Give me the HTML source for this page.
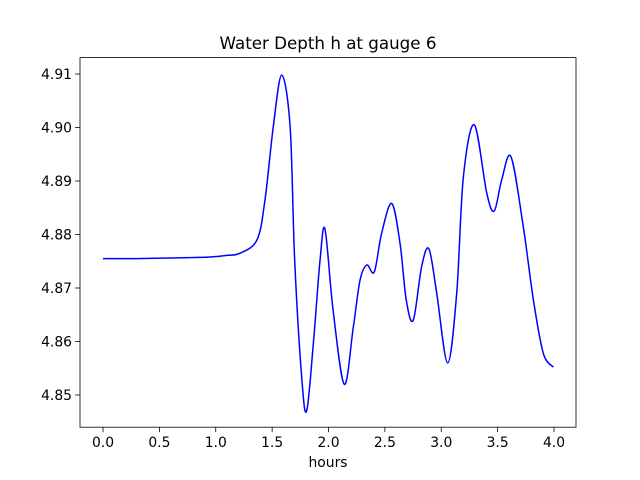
<!DOCTYPE html>
<html><head><meta charset="utf-8"><style>
body{margin:0;background:#fff}
svg{display:block;font-family:"DejaVu Sans","Liberation Sans",sans-serif}
</style></head><body>
<svg id="chart" width="640" height="480">
<rect width="640" height="480" fill="#fff"/>
<text x="328" y="49" text-anchor="middle" font-size="16.7">Water Depth h at gauge 6</text>
<text x="328" y="467" text-anchor="middle" font-size="13.9">hours</text>
<g id="ticks"></g>
<path id="line" fill="none" stroke="#0000ff" stroke-width="1.5"/>
<rect x="80" y="57.6" width="496" height="369.6" fill="none" stroke="#000" stroke-width="0.8"/>
</svg>
<script>
const times=[0,0.3,0.6,0.8,0.95,1.1,1.215,1.366,1.437,1.51,1.585,1.66,1.70,1.762,1.806,1.866,1.925,1.969,2.04,2.14,2.22,2.28,2.34,2.406,2.47,2.56,2.634,2.69,2.752,2.826,2.891,2.96,3.057,3.137,3.196,3.293,3.403,3.47,3.536,3.619,3.728,3.817,3.905,3.994];
const depths=[4.8755,4.8755,4.8756,4.8757,4.8758,4.8761,4.8765,4.879,4.8865,4.9001,4.9098,4.900,4.8752,4.8534,4.847,4.8597,4.8752,4.881,4.866,4.852,4.8627,4.8715,4.8743,4.8730,4.8801,4.8858,4.8784,4.8677,4.864,4.874,4.8773,4.869,4.856,4.869,4.8907,4.9005,4.8878,4.8844,4.8902,4.8945,4.8814,4.8678,4.8578,4.8552];
const xTicks=[0,0.5,1,1.5,2,2.5,3,3.5,4];
const xTickLabels=["0.0","0.5","1.0","1.5","2.0","2.5","3.0","3.5","4.0"];
const yTicks=[4.85,4.86,4.87,4.88,4.89,4.90,4.91];
const yTickLabels=["4.85","4.86","4.87","4.88","4.89","4.90","4.91"];
const xs=t=>103+t*112.75;
const ys=h=>395-(h-4.85)*5350;
const NS="http://www.w3.org/2000/svg";
const g=document.getElementById('ticks');
function mk(tag,attrs){const e=document.createElementNS(NS,tag);for(const k in attrs)e.setAttribute(k,attrs[k]);return e;}
xTicks.forEach((v,i)=>{
 const l=mk('line',{x1:xs(v),x2:xs(v),y1:427.2,y2:432.1,stroke:'#000','stroke-width':0.8});
 
 
 g.appendChild(l);
 const t=mk('text',{x:xs(v),y:447,'text-anchor':'middle','font-size':13.9});
 t.textContent=xTickLabels[i];
 
 
 g.appendChild(t);
});
yTicks.forEach((v,i)=>{
 const l=mk('line',{x1:75.1,x2:80,y1:ys(v),y2:ys(v),stroke:'#000','stroke-width':0.8});
 
 
 g.appendChild(l);
 const t=mk('text',{x:72,y:ys(v)+5,'text-anchor':'end','font-size':13.9});
 t.textContent=yTickLabels[i];
 
 
 g.appendChild(t);
});
const P=times.map((t,i)=>[xs(t),ys(depths[i])]);
let d='M'+P[0][0]+','+P[0][1];
for(let i=0;i<P.length-1;i++){
 const p0=P[Math.max(0,i-1)],p1=P[i],p2=P[i+1],p3=P[Math.min(P.length-1,i+2)];
 const c1=[p1[0]+(p2[0]-p0[0])/6,p1[1]+(p2[1]-p0[1])/6];
 const c2=[p2[0]-(p3[0]-p1[0])/6,p2[1]-(p3[1]-p1[1])/6];
 d+=`C${c1[0]},${c1[1]} ${c2[0]},${c2[1]} ${p2[0]},${p2[1]}`;
}
document.getElementById('line').setAttribute('d',d);
</script>
</body></html>
